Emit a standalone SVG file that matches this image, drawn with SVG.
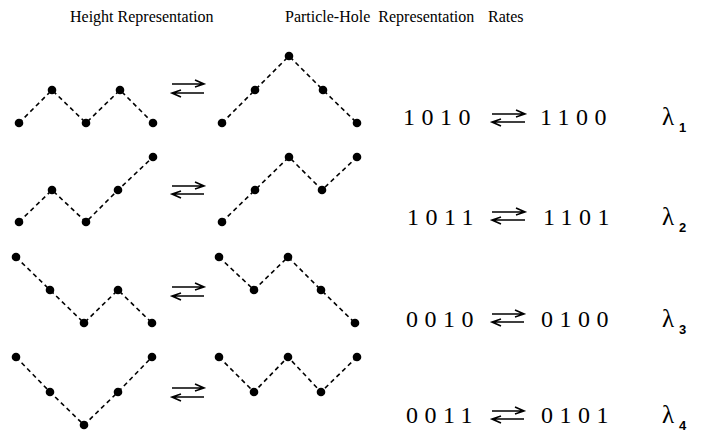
<svg xmlns="http://www.w3.org/2000/svg" width="701" height="437" viewBox="0 0 701 437">
<style>
.bg{fill:#fff}
.hdr{font-family:"Liberation Serif","Times New Roman",serif;font-size:16px;fill:#000}
.bits{font-family:"Liberation Serif","Times New Roman",serif;font-size:24px;letter-spacing:6.5px;fill:#000}
.lam{font-family:"Liberation Serif","Times New Roman",serif;font-size:25px;fill:#000}
.sub{font-family:"Liberation Sans",Arial,sans-serif;font-size:13px;font-weight:bold;fill:#000}
.dash{fill:none;stroke:#000;stroke-width:1.6;stroke-dasharray:4.5 3.5}
.dot{fill:#000}
.arr{fill:none;stroke:#000;stroke-width:1.6}
</style>
<defs>
<circle id="d" r="4.3" class="dot"/>
</defs>
<rect class="bg" x="0" y="0" width="701" height="437"/>

<g id="headers">
<text class="hdr" x="70" y="22">Height Representation</text>
<text class="hdr" x="285" y="22" xml:space="preserve">Particle-Hole  Representation</text>
<text class="hdr" x="488" y="22">Rates</text>
</g>

<g id="h1L"><polyline class="dash" points="19,123 52,90 86,123 120,90 153,123"/>
<use href="#d" x="19" y="123"/><use href="#d" x="52" y="90"/><use href="#d" x="86" y="123"/><use href="#d" x="120" y="90"/><use href="#d" x="153" y="123"/></g>
<g id="h1R"><polyline class="dash" points="222,123 255,90 289,56 323,90 357,123"/>
<use href="#d" x="222" y="123"/><use href="#d" x="255" y="90"/><use href="#d" x="289" y="56"/><use href="#d" x="323" y="90"/><use href="#d" x="357" y="123"/></g>

<g id="h2L"><polyline class="dash" points="19,222 52,190 86,222 118,190 153,157"/>
<use href="#d" x="19" y="222"/><use href="#d" x="52" y="190"/><use href="#d" x="86" y="222"/><use href="#d" x="118" y="190"/><use href="#d" x="153" y="157"/></g>
<g id="h2R"><polyline class="dash" points="222,222 255,190 289,157 322,190 357,157"/>
<use href="#d" x="222" y="222"/><use href="#d" x="255" y="190"/><use href="#d" x="289" y="157"/><use href="#d" x="322" y="190"/><use href="#d" x="357" y="157"/></g>

<g id="h3L"><polyline class="dash" points="16,257 50,290 84,323 118,290 152,323"/>
<use href="#d" x="16" y="257"/><use href="#d" x="50" y="290"/><use href="#d" x="84" y="323"/><use href="#d" x="118" y="290"/><use href="#d" x="152" y="323"/></g>
<g id="h3R"><polyline class="dash" points="219,257 254,290 288,257 321,290 355,323"/>
<use href="#d" x="219" y="257"/><use href="#d" x="254" y="290"/><use href="#d" x="288" y="257"/><use href="#d" x="321" y="290"/><use href="#d" x="355" y="323"/></g>

<g id="h4L"><polyline class="dash" points="16,357 50,392 84,425 118,392 152,357"/>
<use href="#d" x="16" y="357"/><use href="#d" x="50" y="392"/><use href="#d" x="84" y="425"/><use href="#d" x="118" y="392"/><use href="#d" x="152" y="357"/></g>
<g id="h4R"><polyline class="dash" points="219,357 254,392 288,357 321,392 357,357"/>
<use href="#d" x="219" y="357"/><use href="#d" x="254" y="392"/><use href="#d" x="288" y="357"/><use href="#d" x="321" y="392"/><use href="#d" x="357" y="357"/></g>

<g id="p1"><text class="bits" x="403" y="125">1010</text><text class="bits" x="540" y="125">1100</text></g>
<g id="p2"><text class="bits" x="407" y="225">1011</text><text class="bits" x="543" y="225">1101</text></g>
<g id="p3"><text class="bits" x="406" y="327">0010</text><text class="bits" x="541" y="327">0100</text></g>
<g id="p4"><text class="bits" x="406" y="423">0011</text><text class="bits" x="541" y="423">0101</text></g>

<g id="r1"><text class="lam" x="662" y="125">λ</text><text class="sub" x="679" y="132">1</text></g>
<g id="r2"><text class="lam" x="662" y="225">λ</text><text class="sub" x="679" y="232">2</text></g>
<g id="r3"><text class="lam" x="662" y="327">λ</text><text class="sub" x="679" y="334">3</text></g>
<g id="r4"><text class="lam" x="662" y="423">λ</text><text class="sub" x="679" y="430">4</text></g>

<g id="connectors" class="arr">
<path d="M172 84H204M195 80L204 84L195 87M204 93H172M181 90L172 93L181 97"/>
<path d="M172 186H204M195 182L204 186L195 189M204 194H172M181 191L172 194L181 198"/>
<path d="M172 287H204M195 283L204 287L195 290M204 296H172M181 293L172 296L181 300"/>
<path d="M172 388H204M195 384L204 388L195 391M204 397H172M181 394L172 397L181 401"/>
<path d="M492 114H525M516 110L525 114L516 117M525 122H492M501 119L492 122L501 126"/>
<path d="M492 212H525M516 208L525 212L516 215M525 220H492M501 217L492 220L501 224"/>
<path d="M492 314H524M515 310L524 314L515 317M524 322H492M501 319L492 322L501 326"/>
<path d="M492 411H524M515 407L524 411L515 414M524 419H492M501 416L492 419L501 423"/>
</g>
</svg>
